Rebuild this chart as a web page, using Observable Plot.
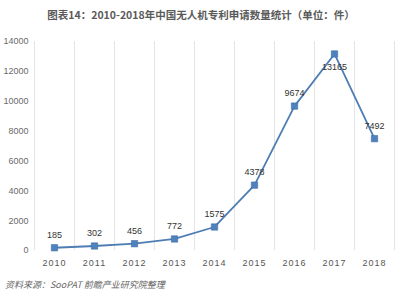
<!DOCTYPE html>
<html>
<head>
<meta charset="utf-8">
<script src="https://cdn.jsdelivr.net/npm/d3@7"></script>
<script src="https://cdn.jsdelivr.net/npm/@observablehq/plot@0.6"></script>
<style>
  html, body { margin: 0; padding: 0; background: #fff; }
  body { width: 402px; height: 300px; overflow: hidden; font-family: "Liberation Sans", "Noto Sans CJK SC", sans-serif; }
  #title {
    height: 30px; line-height: 30px; text-align: center;
    font-family: "Noto Sans CJK SC", sans-serif; font-weight: bold;
    font-size: 10.5px; color: #5a5a5a;
  }
  #chart svg { display: block; }
  #caption {
    height: 20px; line-height: 20px; padding-left: 5px;
    font-family: "Noto Sans CJK SC", sans-serif; font-style: italic;
    font-size: 9px; color: #666;
  }
</style>
</head>
<body>
<div id="title">图表14：2010-2018年中国无人机专利申请数量统计（单位：件）</div>
<div id="chart"></div>
<div id="caption">资料来源：SooPAT 前瞻产业研究院整理</div>
<script>
// Patent applications for drones in China, by year (units: 件)
const years = [2010, 2011, 2012, 2013, 2014, 2015, 2016, 2017, 2018];
const counts = [185, 302, 456, 772, 1575, 4378, 9674, 13165, 7492];
const yTicks = [0, 2000, 4000, 6000, 8000, 10000, 12000, 14000];

const data = years.map((year, i) => ({year, count: counts[i]}));
const peak = d3.max(counts);

// Vertical separators sit on the edges between the yearly categories
const edges = [years[0] - 0.5, ...years.map(y => y + 0.5)];

const chart = Plot.plot({
  width: 402,
  height: 245,
  marginTop: 11,
  marginBottom: 25,
  marginLeft: 34,
  marginRight: 8,
  style: {fontFamily: "Liberation Sans, Noto Sans CJK SC, sans-serif", fontSize: "9px", color: "#6a6a6a", background: "#fff"},
  x: {
    type: "linear",
    domain: [years[0] - 0.5, years[years.length - 1] + 0.5],
    ticks: years,
    tickFormat: d => String(d),
    tickSize: 0,
    tickPadding: 9,
    label: null
  },
  y: {
    domain: [0, 14000],
    ticks: yTicks,
    tickFormat: d => String(d),
    tickSize: 0,
    tickPadding: 6,
    label: null
  },
  marks: [
    Plot.ruleX(edges, {y1: 0, y2: 14000, stroke: "#e4e4e4", strokeWidth: 1}),
    Plot.line(data, {x: "year", y: "count", stroke: "#4d7db3", strokeWidth: 1.8}),
    Plot.dot(data, {x: "year", y: "count", symbol: "square", r: 3.6, fill: "#4f81bd", stroke: "#3f6fa8", strokeWidth: 0.6}),
    Plot.text(data.filter(d => d.count !== peak), {x: "year", y: "count", text: d => String(d.count), dy: -13, fill: "#333", fontSize: 9}),
    Plot.text(data.filter(d => d.count === peak), {x: "year", y: "count", text: d => String(d.count), dy: 13, fill: "#333", fontSize: 9})
  ]
});

// spaced-out year labels along the bottom
d3.select(chart).selectAll("g[aria-label='x-axis'] text, g[aria-label='x-axis tick label'] text")
  .style("letter-spacing", "1px").attr("fill", "#555");

document.getElementById("chart").appendChild(chart);
</script>
</body>
</html>
